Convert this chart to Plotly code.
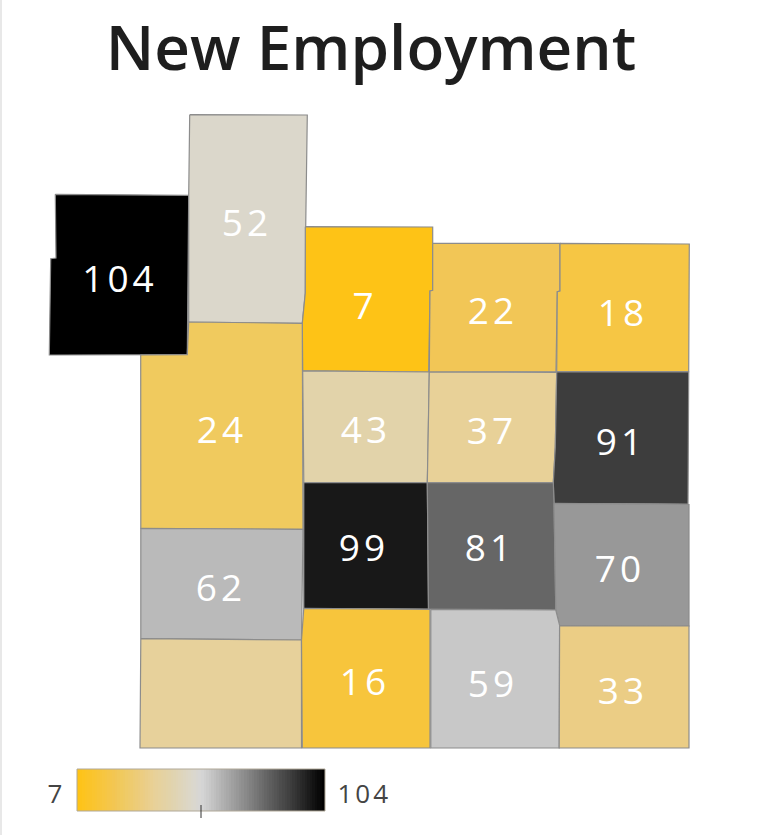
import plotly.graph_objects as go
from plotly.colors import sample_colorscale

TITLE = "New Employment"
REGION_VALUES = [104, 52, 7, 22, 18, 24, 43, 37, 91, 62, 99, 81, 70, 38, 16, 59, 33]
REGION_LABELS = ["104", "52", "7", "22", "18", "24", "43", "37", "91", "62", "99", "81", "70", "", "16", "59", "33"]
SCALE_MIN = 7
SCALE_MAX = 104
SCALE_TICK = 55.5

# Region outlines (image-plane coordinates of the map)
OUTLINES = [
    [(55.3,194.3),(188.7,195.3),(187.3,354.7),(49.3,355),(50.7,258.7),(56,258)],
    [(189.7,114.7),(307.3,115),(305.7,226.7),(305.3,293),(302.3,323.3),(188.7,322),(188.7,195.3)],
    [(305.3,226.7),(432.7,227),(432.7,290.7),(430,291),(428.7,372),(302.7,370.7),(302.3,323.3),(305.3,293)],
    [(432.7,243.3),(560,243.3),(560,291),(557.3,291.7),(556,371.7),(429.3,372),(430,291),(432.7,290.3)],
    [(560,243.3),(689.3,244),(688.7,371.7),(556.7,371.7),(557.3,291.7),(560,291)],
    [(140.7,355),(187.3,354.7),(188.7,322),(302.3,323.3),(303,529.3),(140.8,528.3)],
    [(302.7,371),(429.3,372),(428,453),(427.3,482.7),(303.8,482.7)],
    [(429.3,372),(556.7,372.3),(555.3,446.7),(553.3,482.7),(427.3,482.7),(428,453)],
    [(556.7,372),(688.7,372),(688,504),(554,503.3),(553.3,482.7),(555.3,446.7)],
    [(140.8,528.3),(303,529.3),(301.5,640),(140.8,638.7)],
    [(303.8,482.7),(427.3,482.7),(428.5,609),(303.8,608.3)],
    [(427.3,482.7),(553.3,482.7),(554,503.3),(555.8,610),(428.5,609)],
    [(554,503.3),(689,504.5),(689,626),(559.6,625.3),(555.8,610)],
    [(140.8,638.7),(301.5,640),(301.5,748),(140,748)],
    [(303.8,608.3),(430,609.3),(430,748),(302.3,748),(301.5,640)],
    [(430.8,609.3),(555.8,610),(559.6,625.3),(559.2,748),(430.8,748)],
    [(559.6,625.7),(689,626),(689,748),(559.2,748)],
]
LABEL_X = [120, 247, 365, 493, 623, 222, 366, 492, 621, 221, 364, 490, 620, 222, 365, 493, 623]
LABEL_Y = [283, 227, 310, 315, 317, 434, 434, 435, 446, 592, 552, 552, 573, 698, 686, 688, 695]

COLORSCALE = [
    [0.0, "#FEC316"], [0.113, "#F6C644"], [0.155, "#F2C656"], [0.175, "#F0CA5E"],
    [0.268, "#EBCD85"], [0.31, "#E8D198"], [0.371, "#E2D3AA"], [0.464, "#DBD7CB"],
    [0.5, "#D6D6D6"], [0.536, "#C8C8C8"], [0.567, "#BABABA"], [0.649, "#989898"],
    [0.763, "#666666"], [0.866, "#3D3D3D"], [0.948, "#181818"], [1.0, "#000000"],
]

W, H = 759, 835
fig = go.Figure()

for outline, value in zip(OUTLINES, REGION_VALUES):
    t = (value - SCALE_MIN) / (SCALE_MAX - SCALE_MIN)
    xs = [p[0] for p in outline] + [outline[0][0]]
    ys = [p[1] for p in outline] + [outline[0][1]]
    fig.add_trace(go.Scatter(
        x=xs, y=ys, mode="lines", fill="toself",
        fillcolor=sample_colorscale(COLORSCALE, [t], colortype="rgb")[0],
        line=dict(color="#8c8c8c", width=1.2), hoverinfo="skip", showlegend=False,
    ))

fig.add_trace(go.Scatter(
    x=LABEL_X, y=LABEL_Y, mode="text", text=REGION_LABELS,
    textposition="middle center",
    textfont=dict(family="Open Sans", size=37, color="#ffffff"),
    hoverinfo="skip", showlegend=False,
))

# Scale bar
ramp = list(range(SCALE_MIN, SCALE_MAX + 1))
fig.add_trace(go.Heatmap(
    x=ramp, y=[0.5], z=[ramp], xaxis="x2", yaxis="y2",
    colorscale=COLORSCALE, zmin=SCALE_MIN, zmax=SCALE_MAX,
    showscale=False, hoverinfo="skip",
))

fig.add_shape(type="rect", xref="paper", yref="paper",
              x0=77/W, x1=325/W, y0=1-811/H, y1=1-769/H,
              line=dict(color="#b0a898", width=1), layer="above")
fig.add_shape(type="line", xref="x2", yref="paper",
              x0=SCALE_TICK, x1=SCALE_TICK, y0=1-818/H, y1=1-805/H,
              line=dict(color="#333333", width=1), layer="above")
fig.add_shape(type="rect", xref="paper", yref="paper",
              x0=0, x1=2/W, y0=0, y1=1, fillcolor="#e8e8e8", line_width=0, layer="below")

for txt, px in [(str(SCALE_MIN), 56), (str(SCALE_MAX), 364)]:
    fig.add_annotation(x=px/W, y=1-793/H, xref="paper", yref="paper", text=txt,
                       showarrow=False, xanchor="center", yanchor="middle",
                       font=dict(family="Open Sans", size=26, color="#444444"))

fig.update_layout(
    width=W, height=H, margin=dict(l=0, r=0, t=0, b=0),
    paper_bgcolor="#ffffff", plot_bgcolor="#ffffff",
    title=dict(text=TITLE, x=371/W, xanchor="center", y=1-48/H, yanchor="middle",
               font=dict(family="Open Sans", size=62, weight=600, color="#1e1e1e")),
    xaxis=dict(range=[0, W], visible=False, domain=[0, 1]),
    yaxis=dict(range=[H, 0], visible=False, domain=[0, 1]),
    xaxis2=dict(range=[SCALE_MIN - 0.5, SCALE_MAX + 0.5], visible=False,
                domain=[77/W, 325/W], anchor="y2"),
    yaxis2=dict(range=[0, 1], visible=False, domain=[1-811/H, 1-769/H], anchor="x2"),
)

page_js = """
document.body.style.margin = '0';
document.querySelectorAll('.textpoint text').forEach(t => t.style.letterSpacing = '4px');
document.querySelectorAll('.annotation-text').forEach(t => t.style.letterSpacing = '3px');
"""
fig.write_html("out.html", post_script=page_js, config={"displayModeBar": False})
